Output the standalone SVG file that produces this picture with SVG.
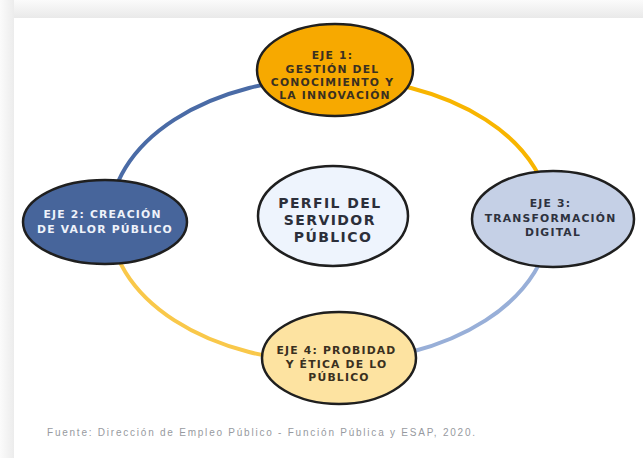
<svg xmlns="http://www.w3.org/2000/svg" width="643" height="458" viewBox="0 0 643 458">
  <defs>
    <linearGradient id="topShade" x1="0" y1="0" x2="0" y2="1">
      <stop offset="0" stop-color="#fbfbfb"/>
      <stop offset="1" stop-color="#e9e9e9"/>
    </linearGradient>
    <linearGradient id="leftShade" x1="0" y1="0" x2="1" y2="0">
      <stop offset="0" stop-color="#fbfbfb"/>
      <stop offset="1" stop-color="#ececec"/>
    </linearGradient>
  </defs>
  <style>
    .ring { fill: none; stroke-width: 4; stroke-linecap: round; }
    .node { stroke: #1f1f1f; stroke-width: 2.5; }
    .lbl { font-family: "DejaVu Sans", "Liberation Sans", sans-serif; font-weight: bold; font-size: 10.8px; letter-spacing: 1.2px; text-anchor: middle; }
    .big { font-family: "DejaVu Sans", "Liberation Sans", sans-serif; font-weight: bold; font-size: 14px; letter-spacing: 1.4px; text-anchor: middle; fill: #2c2f3a; }
    .src { font-family: "Liberation Sans", Arial, sans-serif; font-size: 10px; fill: #979aa0; }
  </style>

  <!-- page background and card -->
  <rect x="0" y="0" width="643" height="458" fill="#ffffff"/>
  <rect x="0" y="0" width="643" height="18" fill="url(#topShade)"/>
  <rect x="0" y="0" width="14" height="458" fill="url(#leftShade)"/>
  <rect x="14" y="18" width="629" height="440" fill="#ffffff"/>

  <!-- connectors: the four arcs of the ring -->
  <g id="connectors">
    <path class="ring" stroke="#4a6ba6" d="M 110 220 A 220 142 0 0 1 330 78"/>
    <path class="ring" stroke="#f8b500" d="M 330 78 A 220 142 0 0 1 550 220"/>
    <path class="ring" stroke="#98afd8" d="M 550 220 A 220 142 0 0 1 330 362"/>
    <path class="ring" stroke="#f9c84a" d="M 330 362 A 220 142 0 0 1 110 220"/>
  </g>

  <g id="eje1">
    <ellipse class="node" cx="335" cy="70" rx="78" ry="46" fill="#f7a900"/>
    <text class="lbl" fill="#3a3020">
      <tspan x="335" y="59">EJE 1:</tspan>
      <tspan x="335" y="73">GESTIÓN DEL</tspan>
      <tspan x="335" y="86">CONOCIMIENTO Y</tspan>
      <tspan x="335" y="99">LA INNOVACIÓN</tspan>
    </text>
  </g>

  <g id="eje2">
    <ellipse class="node" cx="105" cy="222" rx="82" ry="42" fill="#47659b"/>
    <text class="lbl" fill="#eef2fa">
      <tspan x="105" y="218">EJE 2: CREACIÓN</tspan>
      <tspan x="105" y="233">DE VALOR PÚBLICO</tspan>
    </text>
  </g>

  <g id="eje3">
    <ellipse class="node" cx="553" cy="219" rx="81" ry="48" fill="#c5d0e6"/>
    <text class="lbl" fill="#2e323e">
      <tspan x="553" y="207">EJE 3:</tspan>
      <tspan x="553" y="222">TRANSFORMACIÓN</tspan>
      <tspan x="553" y="236">DIGITAL</tspan>
    </text>
  </g>

  <g id="eje4">
    <ellipse class="node" cx="339" cy="358" rx="77" ry="46" fill="#fde3a1"/>
    <text class="lbl" fill="#3a3020">
      <tspan x="339" y="354">EJE 4: PROBIDAD</tspan>
      <tspan x="339" y="368">Y ÉTICA DE LO</tspan>
      <tspan x="339" y="381">PÚBLICO</tspan>
    </text>
  </g>

  <g id="perfil">
    <ellipse class="node" cx="333" cy="216" rx="75" ry="50" fill="#eef4fd"/>
    <text class="big">
      <tspan x="333" y="208">PERFIL DEL</tspan>
      <tspan x="333" y="225">SERVIDOR</tspan>
      <tspan x="333" y="242">PÚBLICO</tspan>
    </text>
  </g>

  <text class="src" x="47" y="436" textLength="428" lengthAdjust="spacing">Fuente: Dirección de Empleo Público - Función Pública y ESAP, 2020.</text>
</svg>
